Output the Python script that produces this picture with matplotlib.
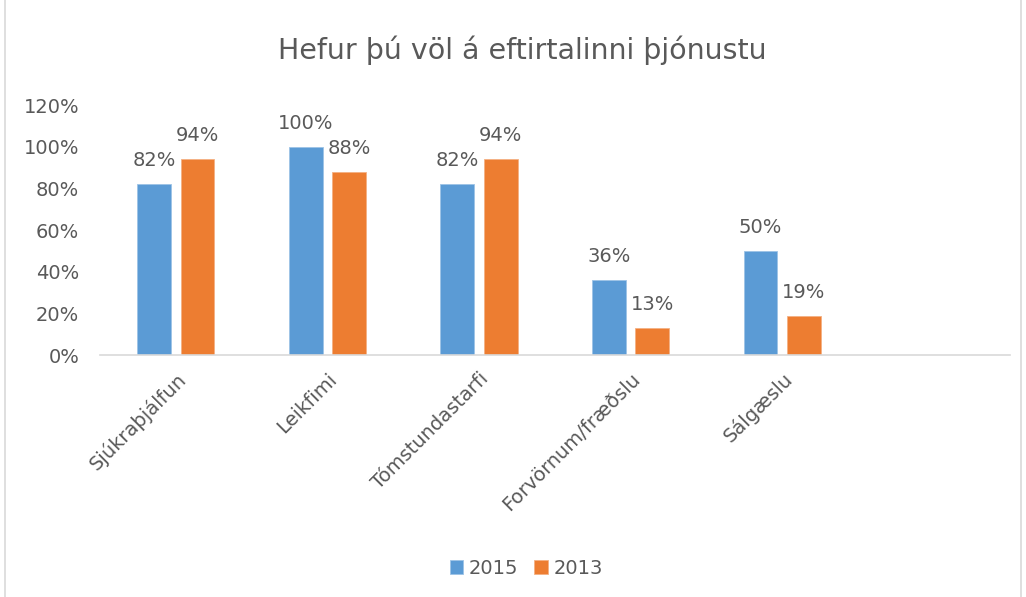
import numpy as np
import matplotlib.pyplot as plt
from matplotlib.patches import Rectangle

plt.rcParams['font.family'] = ['DejaVu Sans']

# data
categories = ["Sjúkraþjálfun", "Leikfimi", "Tómstundastarfi", "Forvörnum/fræðslu", "Sálgæslu", ""]
vals_2015 = [0.82, 1.00, 0.82, 0.36, 0.50]
vals_2013 = [0.94, 0.88, 0.94, 0.13, 0.19]
series_labels = ["2015", "2013"]
yticks = [0, 0.2, 0.4, 0.6, 0.8, 1.0, 1.2]

blue = '#5B9BD5'
orange = '#ED7D31'
txt = '#595959'
fs = 14

fig = plt.figure(figsize=(10.26, 5.97), dpi=100)
ax = fig.add_axes([0.0975, 0.405, 0.8865, 0.419])

x = np.arange(len(categories))
w = 0.224
b1 = ax.bar(x[:len(vals_2015)] - 0.143, vals_2015, w, color=blue, edgecolor='#9DC3E6', linewidth=0.6, label=series_labels[0])
b2 = ax.bar(x[:len(vals_2013)] + 0.143, vals_2013, w, color=orange, edgecolor='#F4B183', linewidth=0.6, label=series_labels[1])

# value labels over the bars
for bars in (b1, b2):
    for r in bars:
        ax.annotate(f"{r.get_height():.0%}", (r.get_x() + r.get_width() / 2, r.get_height()),
                    xytext=(0, 10), textcoords='offset points', ha='center', va='bottom',
                    fontsize=fs, color=txt)

ax.set_xlim(-0.5, len(categories) - 0.5)
ax.set_ylim(0, 1.2)
ax.set_yticks(yticks)
ax.set_yticklabels([f"{t:.0%}" for t in yticks], fontsize=fs, color=txt)
ax.set_xticks(x)
ax.set_xticklabels(categories, rotation=45, ha='right', va='top', rotation_mode='anchor',
                   fontsize=fs, color=txt)
ax.tick_params(axis='y', length=0, pad=15)
ax.tick_params(axis='x', length=0, pad=10)
for s in ['top', 'right', 'left']:
    ax.spines[s].set_visible(False)
ax.spines['bottom'].set_color('#D9D9D9')
ax.spines['bottom'].set_linewidth(1.2)

fig.text(0.509, 0.915, "Hefur þú völ á eftirtalinni þjónustu", ha='center', va='center',
         fontsize=20.5, color=txt)

fig.legend(handles=[b1, b2], loc='center', bbox_to_anchor=(0.513, 0.048), ncol=2, frameon=False,
           fontsize=fs, labelcolor=txt, handlelength=0.7, handleheight=0.7, handletextpad=0.3,
           columnspacing=0.8)

fig.patches.append(Rectangle((0.005, -0.01), 0.99, 1.02, transform=fig.transFigure,
                             fill=False, edgecolor='#D9D9D9', linewidth=1.2))

fig.savefig('out.png', dpi=100)
